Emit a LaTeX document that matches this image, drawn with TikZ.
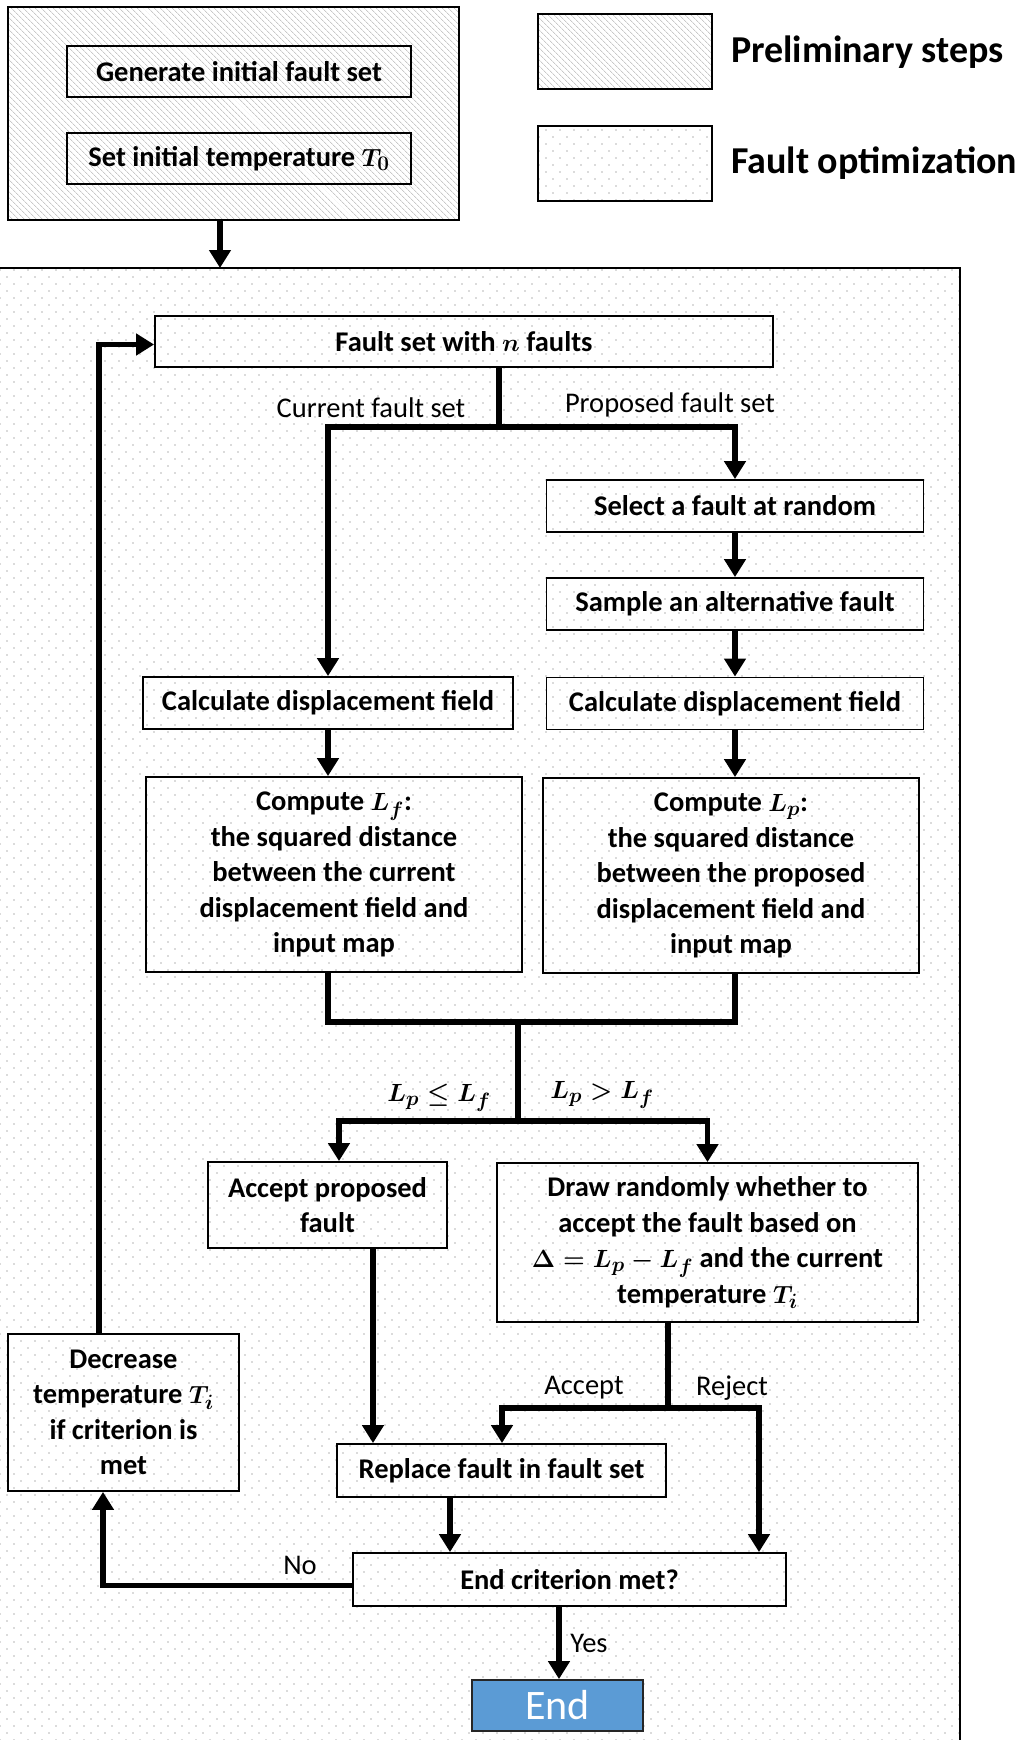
\documentclass[tikz,border=0pt]{standalone}
\usepackage{fontspec}
\setmainfont{Carlito}
\usetikzlibrary{patterns.meta,arrows.meta,calc}
\definecolor{endblue}{HTML}{5B9BD5}
\begin{document}
\begin{tikzpicture}[x=1pt,y=-1pt,
  bx/.style={draw,line width=1.8pt,align=center,inner sep=0pt,font=\fontsize{28.5}{35.5}\selectfont\bfseries\boldmath},
  ln/.style={line width=5.5pt},
  arr/.style={line width=5.5pt,-{Triangle[length=18pt,width=21pt]}},
  lbl/.style={inner sep=0pt,font=\fontsize{28.5}{32}\selectfont\boldmath},
  leg/.style={inner sep=0pt,anchor=west,font=\fontsize{38}{42}\selectfont\bfseries},
  hatch/.style={pattern={Lines[angle=-45,distance=4pt,line width=0.5pt]},pattern color=gray!65},
  dots/.style={pattern={Dots[angle=45,distance=9.9pt,radius=0.85pt]},pattern color=gray!65},
]
\useasboundingbox (0,0) rectangle (1023,1740);
\fill[white] (0,0) rectangle (1023,1740);

% frames
\path[dots,draw,line width=2pt] (-5,268) rectangle (960,1760);
\node[draw,line width=2pt,hatch,minimum width=451pt,minimum height=213pt,inner sep=0pt] (pre) at (233.5,113.5) {};

% legend
\node[draw,line width=1.8pt,hatch,minimum width=174pt,minimum height=75pt,inner sep=0pt] (lg1) at (625,51.5) {};
\node[draw,line width=1.8pt,dots,minimum width=174pt,minimum height=75pt,inner sep=0pt] (lg2) at (625,163.5) {};
\node[leg] (lt1) at (731,52) {Preliminary steps};
\node[leg] (lt2) at (731,163) {Fault optimization};

% preliminary boxes
\node[bx,minimum width=344pt,minimum height=51pt] (gen) at (239,71.5) {Generate initial fault set};
\node[bx,minimum width=344pt,minimum height=51pt] (setT) at (239,158.5) {Set initial temperature $T_0$};

% main boxes
\node[bx,minimum width=618pt,minimum height=51pt] (fs) at (464,341.5) {Fault set with $n$ faults};
\node[bx,minimum width=377pt,minimum height=52pt] (sel) at (735,506) {Select a fault at random};
\node[bx,minimum width=377pt,minimum height=52pt] (samp) at (735,604) {Sample an alternative fault};
\node[bx,minimum width=370pt,minimum height=52pt] (calcL) at (328,703) {Calculate displacement field};
\node[bx,minimum width=377pt,minimum height=52pt] (calcR) at (735,703.5) {Calculate displacement field};
\node[bx,minimum width=376pt,minimum height=195pt] (compL) at (334,874.5) {Compute $L_f$:\\the squared distance\\between the current\\displacement field and\\input map};
\node[bx,minimum width=376pt,minimum height=195pt] (compR) at (731,875.5) {Compute $L_p$:\\the squared distance\\between the proposed\\displacement field and\\input map};
\node[bx,minimum width=239pt,minimum height=86pt] (acc) at (327.5,1205) {Accept proposed\\fault};
\node[bx,minimum width=421pt,minimum height=159pt] (drw) at (707.5,1242.5) {Draw randomly whether to\\accept the fault based on\\$\Delta=L_p-L_f$ and the current\\temperature $T_i$};
\node[bx,minimum width=231pt,minimum height=157pt] (dec) at (123.5,1412.5) {Decrease\\temperature $T_i$\\if criterion is\\met};
\node[bx,minimum width=329pt,minimum height=53pt] (rep) at (501.5,1470.5) {Replace fault in fault set};
\node[bx,minimum width=433pt,minimum height=53pt] (endc) at (569.5,1579.5) {End criterion met?};
\node[draw=black!85,line width=1.8pt,fill=endblue,text=white,inner sep=0pt,minimum width=171pt,minimum height=51pt,font=\fontsize{42}{44}\selectfont] (endn) at (557.5,1705.5) {End};

% helper coordinates
\coordinate (frtop) at (220,268);
\coordinate (loopx) at (99,0);
\coordinate (sp1) at (499,427);
\coordinate (mg) at (518,1022);
\coordinate (sp2) at (518,1121);
\coordinate (ax) at (339,0);
\coordinate (bx1) at (373,0);
\coordinate (sp3) at (668,1408);
\coordinate (rx) at (502,0);
\coordinate (jx) at (759,0);
\coordinate (ex) at (450,0);
\coordinate (yx) at (559,0);
\coordinate (nox) at (103,0);

% connectors
\draw[arr] (pre.south -| frtop) -- (frtop);
\draw[arr] (dec.north -| loopx) |- ([yshift=-3pt]fs.west);
\draw[ln] (fs.south -| sp1) -- (sp1);
\draw[arr] (sp1) -| (calcL.north);
\draw[arr] (sp1) -| (sel.north);
\draw[arr] (sel) -- (samp);
\draw[arr] (samp) -- (calcR);
\draw[arr] (calcL.south) -- (calcL.south |- compL.north);
\draw[arr] (calcR.south) -- (calcR.south |- compR.north);
\draw[ln] (compL.south -| calcL.south) |- (mg);
\draw[ln] (compR.south -| calcR.south) |- (mg);
\draw[ln] (mg) -- (sp2);
\draw[arr] (sp2) -| (ax |- acc.north);
\draw[arr] (sp2) -| (drw.north);
\draw[arr] (acc.south -| bx1) -- (rep.north -| bx1);
\draw[ln] (drw.south -| sp3) -- (sp3);
\draw[arr] (sp3) -| (rep.north -| rx);
\draw[arr] (sp3) -| (endc.north -| jx);
\draw[arr] (rep.south -| ex) -- (endc.north -| ex);
\draw[arr] (endc.south -| yx) -- (endn.north -| yx);
\draw[arr] ([yshift=-6pt]endc.west) -| (dec.south -| nox);

% labels
\node[lbl] (l1) at (371,408) {Current fault set};
\node[lbl] (l2) at (670,405) {Proposed fault set};
\node[lbl] (l3) at (439,1098) {$L_p\le L_f$};
\node[lbl] (l4) at (602,1095) {$L_p> L_f$};
\node[lbl] (l5) at (584,1388) {Accept};
\node[lbl] (l6) at (732,1388) {Reject};
\node[lbl] (l7) at (300,1565) {No};
\node[lbl] (l8) at (589,1643) {Yes};
\end{tikzpicture}
\end{document}
